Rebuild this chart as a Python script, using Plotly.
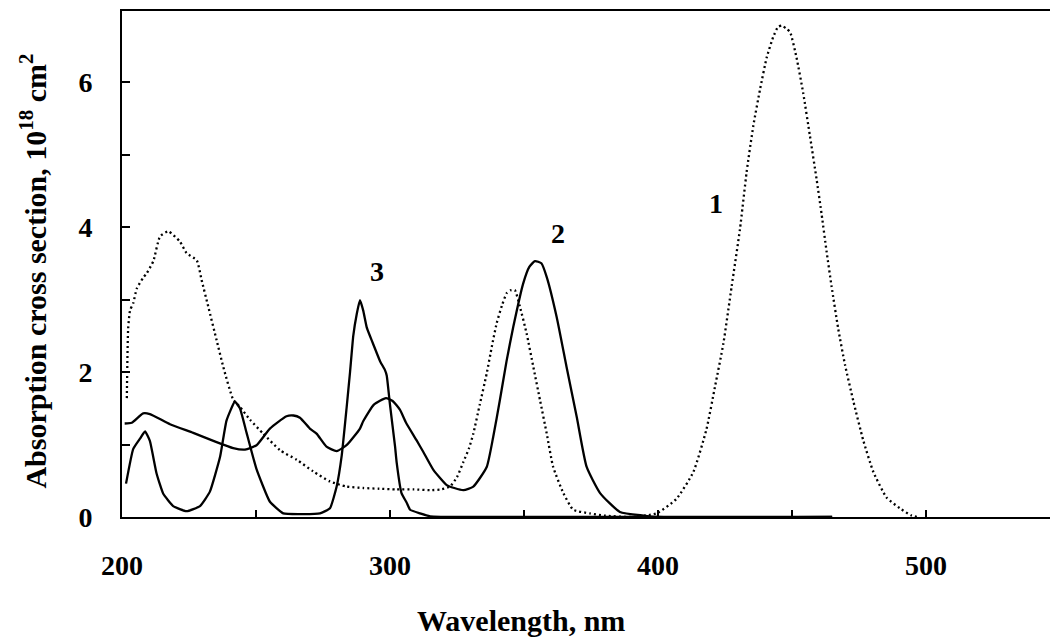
import plotly.graph_objects as go

# ---- data ----
wl1 = [201.8, 202.3, 203.0, 204.2, 205.5, 207.9, 209.2, 211.7, 214.2, 217.3,
       221.6, 224.1, 227.9, 229.7, 232.2, 235.3, 237.8, 241.5, 244.0, 247.8,
       252.7, 259.0, 265.2, 271.3, 277.6, 283.8, 290.0, 296.0, 302.5, 309.0,
       314.9, 319.0, 322.4, 325.0, 327.4, 329.5, 331.1, 333.5, 336.1, 338.0,
       339.8, 341.8, 343.6, 345.2, 346.6, 348.5, 351.0, 353.5, 356.0, 358.5,
       360.9, 364.7, 368.4, 374.6, 380.0, 390.0, 399.5, 406.9, 413.2, 418.1,
       421.3, 424.4, 427.5, 430.6, 433.1, 435.6, 438.1, 440.6, 443.0, 444.8,
       446.2, 447.8, 449.3, 451.7, 454.2, 456.7, 459.2, 461.1, 462.9, 464.8,
       467.3, 469.8, 472.9, 476.6, 480.4, 485.3, 490.3, 494.6, 497.0]
val1 = [1.64, 2.60, 2.85, 2.95, 3.15, 3.30, 3.36, 3.53, 3.87, 3.94,
        3.80, 3.64, 3.54, 3.27, 2.90, 2.44, 2.07, 1.62, 1.52, 1.34,
        1.15, 0.92, 0.79, 0.63, 0.49, 0.42, 0.40, 0.39, 0.38, 0.38,
        0.37, 0.38, 0.42, 0.55, 0.76, 0.95, 1.15, 1.55, 1.98, 2.35,
        2.67, 2.92, 3.09, 3.13, 3.13, 2.90, 2.53, 2.07, 1.61, 1.15,
        0.69, 0.33, 0.10, 0.05, 0.02, 0.00, 0.05, 0.25, 0.62, 1.21,
        1.80, 2.39, 3.18, 3.97, 4.76, 5.40, 5.90, 6.34, 6.62, 6.76,
        6.78, 6.74, 6.69, 6.34, 5.85, 5.26, 4.66, 4.17, 3.67, 3.18,
        2.59, 2.10, 1.60, 1.06, 0.62, 0.27, 0.12, 0.02, 0.00]

wl2 = [201.0, 203.6, 207.9, 210.4, 217.9, 226.6, 234.1, 241.5, 245.9, 250.2,
       255.2, 261.4, 264.0, 266.4, 270.1, 272.6, 276.3, 280.1, 283.8, 288.8,
       290.0, 294.0, 298.5, 301.0, 303.7, 306.0, 309.9, 312.4, 316.2, 321.2,
       324.0, 327.4, 331.1, 336.1, 338.5, 341.0, 343.5, 346.0, 349.7, 352.0,
       354.1, 356.5, 358.5, 362.2, 365.9, 369.7, 373.4, 378.4, 385.8, 394.5,
       400.0, 465.0]
val2 = [1.29, 1.30, 1.43, 1.42, 1.28, 1.16, 1.05, 0.95, 0.93, 0.99,
        1.22, 1.39, 1.40, 1.37, 1.22, 1.15, 0.97, 0.91, 0.99, 1.22,
        1.32, 1.55, 1.64, 1.60, 1.48, 1.30, 1.06, 0.90, 0.65, 0.44,
        0.40, 0.37, 0.42, 0.69, 1.10, 1.61, 2.15, 2.62, 3.22, 3.45,
        3.53, 3.50, 3.31, 2.76, 2.07, 1.38, 0.69, 0.33, 0.07, 0.02,
        0.00, 0.00]

wl3 = [201.5, 204.2, 206.7, 208.6, 210.4, 212.9, 215.4, 219.1, 224.1, 229.1,
       232.8, 236.6, 239.0, 242.1, 244.0, 246.5, 250.2, 255.2, 260.2, 266.0,
       273.9, 277.6, 280.1, 282.0, 283.8, 285.1, 286.3, 287.6, 288.8, 290.0,
       291.3, 292.5, 293.8, 296.3, 298.1, 298.8, 300.0, 301.9, 302.5, 304.3,
       306.2, 307.5, 311.2, 315.0, 330.0, 465.0]
val3 = [0.46, 0.94, 1.08, 1.18, 1.05, 0.60, 0.32, 0.15, 0.08, 0.15,
        0.35, 0.83, 1.33, 1.59, 1.50, 1.16, 0.66, 0.21, 0.05, 0.04,
        0.05, 0.12, 0.42, 0.85, 1.50, 2.00, 2.50, 2.80, 2.99, 2.85,
        2.62, 2.50, 2.38, 2.15, 2.03, 1.95, 1.55, 0.97, 0.75, 0.33,
        0.20, 0.10, 0.05, 0.01, 0.00, 0.00]

curve_labels = ["1", "2", "3"]
label_x = [421.8, 362.8, 295.0]
label_y = [4.32, 3.91, 3.38]

x_tickvals = [200, 300, 400, 500]
x_ticktext = ["200", "300", "400", "500"]
x_minorvals = [250, 350, 450]
y_tickvals = [0, 2, 4, 6]
y_ticktext = ["0", "2", "4", "6"]
y_minorvals = [1, 3, 5]

x_title = "Wavelength, nm"
y_title = "Absorption cross section, 10<sup>18</sup> cm<sup>2</sup>"

assert len(wl1) == len(val1) and len(wl2) == len(val2) and len(wl3) == len(val3)

SERIF = "Liberation Serif, Times New Roman, serif"

fig = go.Figure()
fig.add_trace(go.Scatter(x=wl1, y=val1, mode="lines",
                         line=dict(color="black", width=2.3, dash="2px,3px",
                                   shape="spline", smoothing=0.5),
                         showlegend=False))
fig.add_trace(go.Scatter(x=wl2, y=val2, mode="lines",
                         line=dict(color="black", width=2.3, shape="spline", smoothing=0.5),
                         showlegend=False))
fig.add_trace(go.Scatter(x=wl3, y=val3, mode="lines",
                         line=dict(color="black", width=2.3, shape="spline", smoothing=0.4),
                         showlegend=False))

for t, lx, ly in zip(curve_labels, label_x, label_y):
    fig.add_annotation(x=lx, y=ly, text=t, showarrow=False,
                       font=dict(family=SERIF, size=28, color="black", weight="bold"))

fig.add_annotation(xref="paper", yref="paper", x=0.43, y=-0.2055, text=x_title,
                   showarrow=False, xanchor="center", yanchor="middle",
                   font=dict(family=SERIF, size=30, color="black", weight="bold"))
fig.add_annotation(xref="paper", yref="paper", x=-0.0959, y=0.485, text=y_title,
                   textangle=-90, showarrow=False, xanchor="center", yanchor="middle",
                   font=dict(family=SERIF, size=30, color="black", weight="bold"))

fig.update_layout(
    width=1050, height=640,
    margin=dict(l=122, r=0, t=11, b=123, pad=0),
    paper_bgcolor="white", plot_bgcolor="white",
    showlegend=False,
)
fig.update_xaxes(range=[200, 546.3], tickmode="array", tickvals=x_tickvals, ticktext=x_ticktext,
                 ticks="inside", ticklen=7, tickwidth=1.5, tickcolor="black",
                 minor=dict(tickmode="array", tickvals=x_minorvals, ticks="inside",
                            ticklen=7, tickwidth=1.5, tickcolor="black", showgrid=False),
                 showline=True, linewidth=2, linecolor="black", mirror=True,
                 showgrid=False, zeroline=False, ticklabelstandoff=22,
                 tickfont=dict(family=SERIF, size=28, color="black", weight="bold"))
fig.update_yaxes(range=[0, 6.98], tickmode="array", tickvals=y_tickvals, ticktext=y_ticktext,
                 ticks="inside", ticklen=8, tickwidth=1.5, tickcolor="black",
                 minor=dict(tickmode="array", tickvals=y_minorvals, ticks="inside",
                            ticklen=8, tickwidth=1.5, tickcolor="black", showgrid=False),
                 showline=True, linewidth=2, linecolor="black", mirror=False,
                 showgrid=False, zeroline=False, ticklabelstandoff=22,
                 tickfont=dict(family=SERIF, size=28, color="black", weight="bold"))

fig.write_html("out.html")
